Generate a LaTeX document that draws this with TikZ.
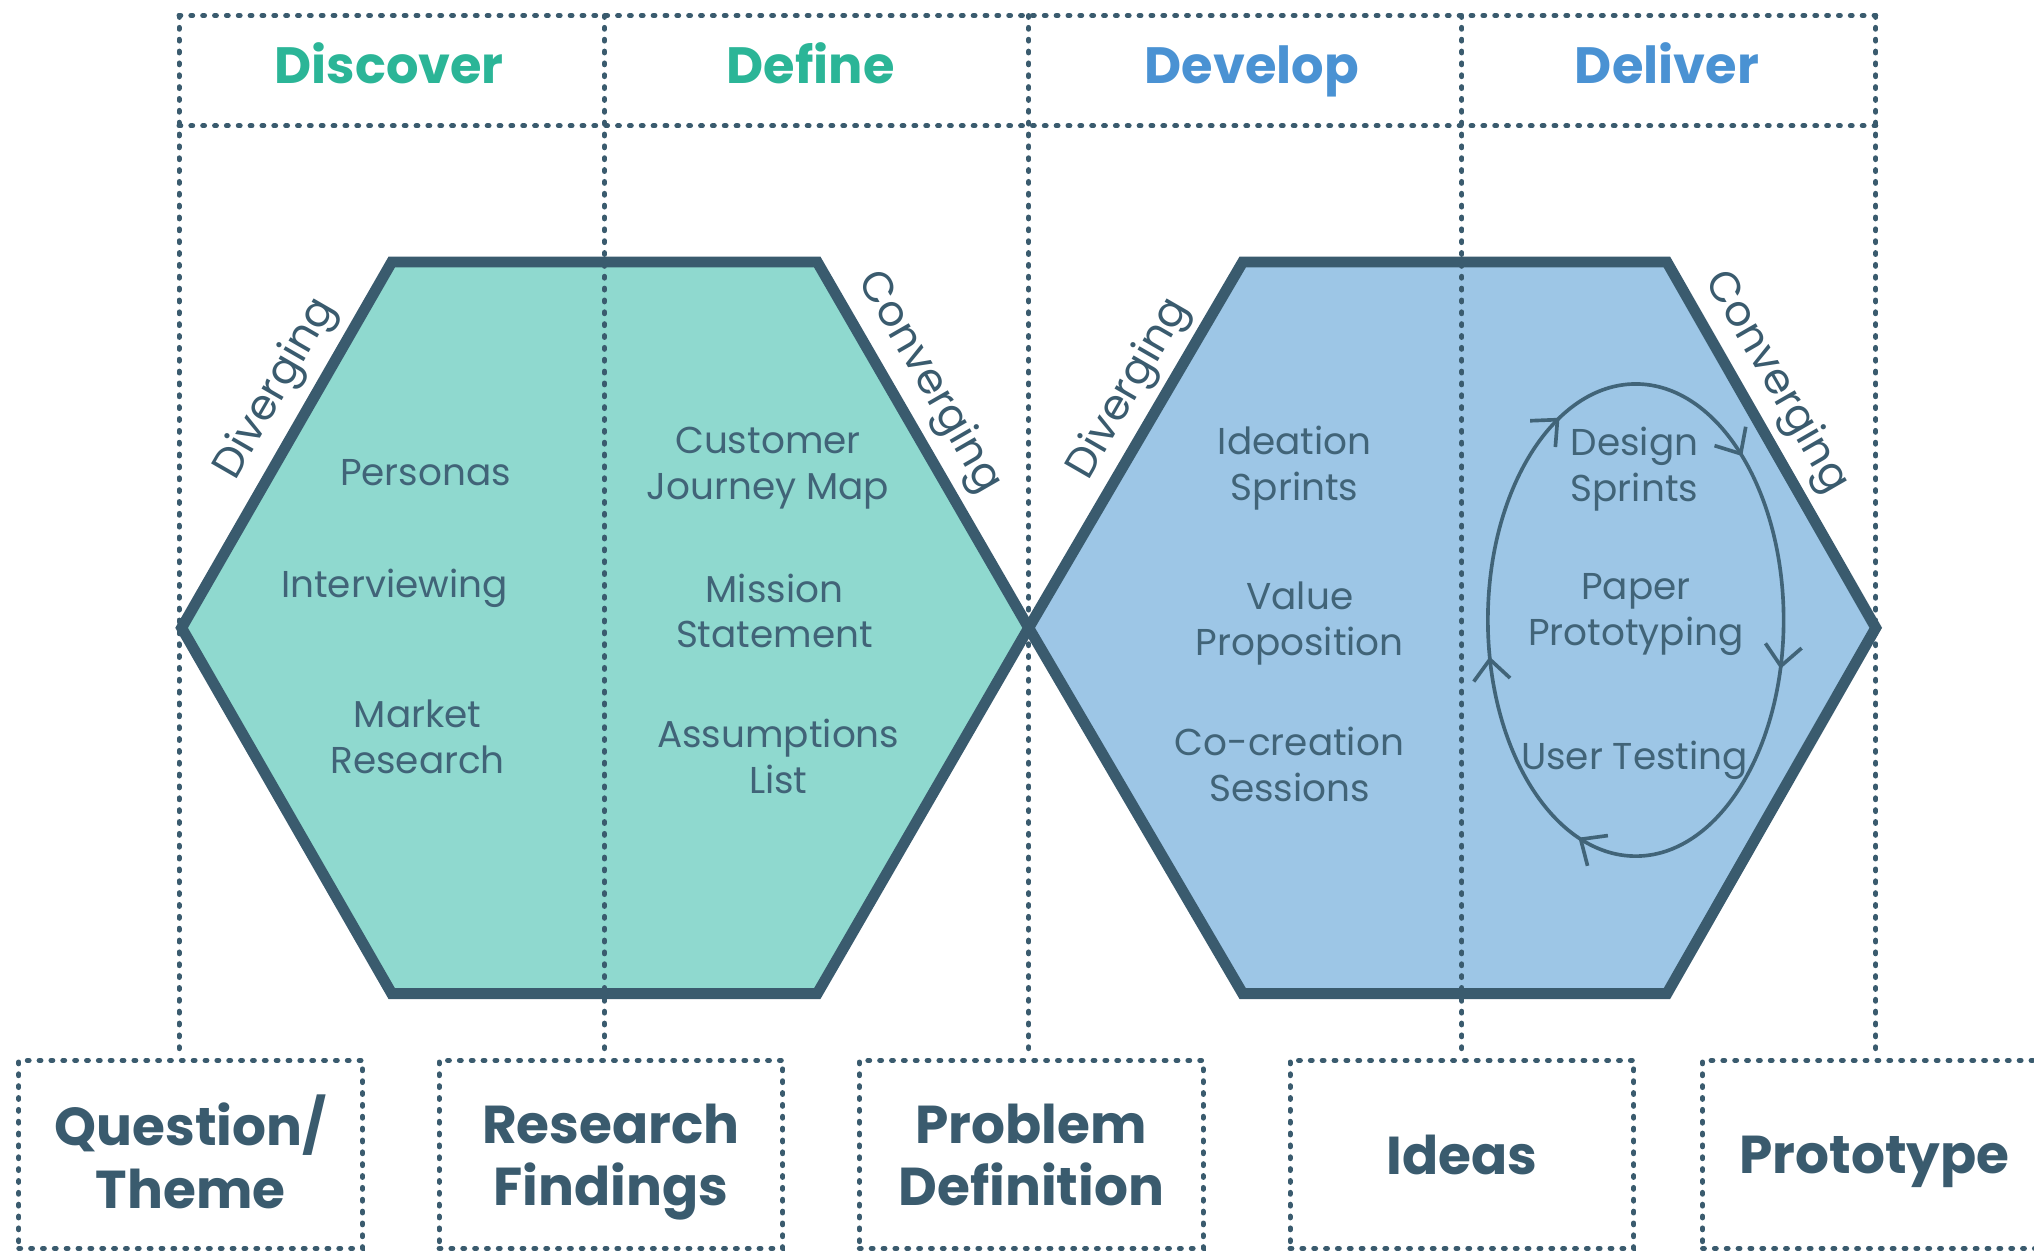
\documentclass[tikz,border=0pt]{standalone}
\usepackage{fontspec}
\setmainfont{Poppins}
\usetikzlibrary{arrows.meta, decorations.markings}
\definecolor{slate}{HTML}{3A5B6E}
\definecolor{softslate}{HTML}{416478}
\definecolor{tealfill}{HTML}{8FD9CF}
\definecolor{bluefill}{HTML}{9DC6E6}
\definecolor{tealhead}{HTML}{2BB597}
\definecolor{bluehead}{HTML}{4A92D3}
\tikzset{cycletip/.tip={Straight Barb[length=4.5pt,width=8pt]}}

\begin{document}
\begin{tikzpicture}
  [x=0.1mm, y=-0.1mm,
   dotline/.style={draw=slate, line width=1.1pt, line cap=round, dash pattern=on 0.4pt off 2.2pt},
   hexagon/.style={draw=slate, line width=2.4pt, fill=#1},
   headtext/.style={text=#1, anchor=base, font=\bfseries\fontsize{11.2}{13}\selectfont},
   outbox/.style={dotline, minimum width=26.5mm, minimum height=14.5mm, text=slate, align=center,
                  text depth=0pt, font=\bfseries\fontsize{11.7}{13.7}\selectfont},
   inner/.style={text=softslate, align=center, text depth=0pt, font=\fontsize{8.2}{10}\selectfont},
   edgelabel/.style={text=slate, font=\fontsize{9.3}{11}\selectfont},
   cycleline/.style={draw=softslate, line width=0.8pt}]

  \useasboundingbox (0,0) rectangle (1568,967);

  % the two diamonds
  \draw[hexagon=tealfill] (140,484) -- (302,202) -- (630,202) -- (793,484) -- (630,766) -- (302,766) -- cycle;
  \draw[hexagon=bluefill] (793,484) -- (958,202) -- (1285,202) -- (1446,484) -- (1285,766) -- (958,766) -- cycle;

  \foreach \x/\n in {138/1, 466/2, 793/3, 1127/4, 1446/5}
    \coordinate (top\n) at (\x,12);
  \coordinate (headl) at (138,97);
  \coordinate (headr) at (1446,97);

  \node[headtext=tealhead] (discover) at (300,64) {Discover};
  \node[headtext=tealhead] (define) at (625,64) {Define};
  \node[headtext=bluehead] (develop) at (965,64) {Develop};
  \node[headtext=bluehead] (deliver) at (1285,64) {Deliver};

  \node[edgelabel, rotate=60] (div1) at (213,300) {Diverging};
  \node[edgelabel, rotate=-60] (conv1) at (716,295) {Converging};
  \node[edgelabel, rotate=60] (div2) at (871,300) {Diverging};
  \node[edgelabel, rotate=-60] (conv2) at (1369,295) {Converging};

  \node[inner] (personas) at (328,364) {Personas};
  \node[inner] (interview) at (304,450) {Interviewing};
  \node[inner] (market) at (322,568) {Market\\Research};
  \node[inner] (journey) at (592,357) {Customer\\Journey Map};
  \node[inner] (mission) at (597,471) {Mission\\Statement};
  \node[inner] (assume) at (600,583) {Assumptions\\List};
  \node[inner] (ideation) at (998,357) {Ideation\\Sprints};
  \node[inner] (value) at (1002,477) {Value\\Proposition};
  \node[inner] (cocreate) at (994,589) {Co-creation\\Sessions};
  \node[inner] (design) at (1260,358) {Design\\Sprints};
  \node[inner] (paper) at (1261,470) {Paper\\Prototyping};
  \node[inner] (testing) at (1260,582) {User Testing};

  % iteration loop
  \draw[cycleline, decoration={markings,
      mark=at position 0.04 with {\arrow{cycletip}},
      mark=at position 0.30 with {\arrow{cycletip}},
      mark=at position 0.47 with {\arrow{cycletip}},
      mark=at position 0.68 with {\arrow{cycletip}},
      mark=at position 0.86 with {\arrow{cycletip}}},
    postaction={decorate}] (1261,478) ellipse [x radius=114, y radius=182];

  \node[outbox] (question) at (147,890) {\raisebox{1.2pt}{Question/}\\\raisebox{1.2pt}{Theme}};
  \node[outbox] (findings) at (471,890) {Research\\Findings};
  \node[outbox] (problem) at (795,890) {Problem\\Definition};
  \node[outbox] (ideas) at (1127,890) {Ideas};
  \node[outbox] (prototype) at (1445,890) {Prototype};

  \draw[dotline] (top1) -- (top5);
  \draw[dotline] (headl) -- (headr);
  \foreach \n/\b in {1/question, 2/findings, 3/problem, 4/ideas, 5/prototype}
    \draw[dotline] (top\n) -- (top\n |- \b.north);

\end{tikzpicture}
\end{document}
